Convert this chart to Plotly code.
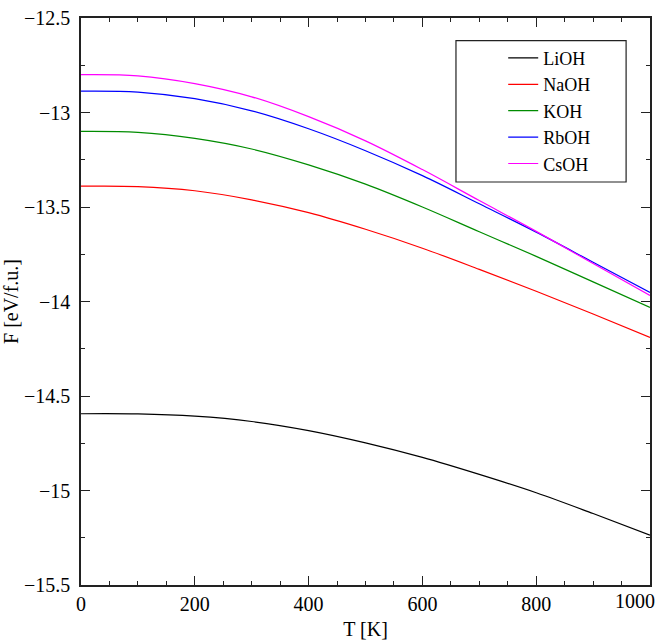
import plotly.graph_objects as go

T = [0, 100, 200, 300, 400, 500, 600, 700, 800, 900, 1000]

LiOH = [-14.594, -14.595, -14.607, -14.635, -14.683, -14.748, -14.825, -14.915, -15.012, -15.122, -15.236]
NaOH = [-13.390, -13.392, -13.414, -13.462, -13.530, -13.618, -13.718, -13.830, -13.946, -14.066, -14.190]
KOH = [-13.100, -13.105, -13.137, -13.193, -13.277, -13.379, -13.500, -13.631, -13.761, -13.896, -14.031]
RbOH = [-12.887, -12.892, -12.927, -12.991, -13.086, -13.202, -13.334, -13.483, -13.633, -13.792, -13.952]
CsOH = [-12.800, -12.806, -12.847, -12.917, -13.022, -13.150, -13.302, -13.466, -13.629, -13.799, -13.968]

names = ["LiOH", "NaOH", "KOH", "RbOH", "CsOH"]
series = [LiOH, NaOH, KOH, RbOH, CsOH]
colors = ["#000000", "#ff0000", "#008c00", "#0000ff", "#ff00ff"]

x_tickvals = [0, 200, 400, 600, 800, 1000]
x_ticklabels = ["0", "200", "400", "600", "800", "1000"]

FONT = "Liberation Serif, Times New Roman, serif"

fig = go.Figure()
for n, s, c in zip(names, series, colors):
    fig.add_trace(go.Scatter(x=T, y=s, name=n, mode="lines",
                             line=dict(color=c, width=1.2, shape="spline")))

axis_common = dict(
    showgrid=False, zeroline=False, showline=True, linecolor="#222222", linewidth=1.6,
    mirror="ticks", ticks="inside", ticklen=9, tickwidth=1.3, tickcolor="#222222",
    tickfont=dict(family=FONT, size=20, color="black"), automargin=False,
)

# the last label sits at the right edge of the page; it is drawn right-aligned below
fig.update_xaxes(range=[0, 1000], tickmode="array", tickvals=x_tickvals,
                 ticktext=x_ticklabels[:-1] + [""],
                 minor=dict(ticks="inside", ticklen=4, dtick=50, tick0=0, tickcolor="#222222", tickwidth=1),
                 title=dict(text="T [K]", font=dict(family=FONT, size=20, color="black"), standoff=8),
                 **axis_common)
fig.update_yaxes(range=[-15.5, -12.5], dtick=0.5, tick0=-12.5,
                 minor=dict(ticks="inside", ticklen=4, dtick=0.25, tickcolor="#222222", tickwidth=1),
                 title=dict(text="F [eV/f.u.]", font=dict(family=FONT, size=20, color="black"), standoff=0),
                 ticklabelstandoff=5,
                 **axis_common)

fig.add_annotation(x=x_tickvals[-1], xref="x", y=0, yref="paper",
                   text=x_ticklabels[-1], showarrow=False,
                   xanchor="right", yanchor="top", xshift=7, yshift=-3,
                   font=dict(family=FONT, size=20, color="black"))

fig.add_shape(type="rect", xref="paper", yref="paper",
              x0=0.659, x1=0.958, y0=0.7108, y1=0.96,
              line=dict(color="#222222", width=1.2), fillcolor="rgba(0,0,0,0)")

fig.update_layout(
    width=659, height=643,
    margin=dict(l=81, r=9, t=18, b=58, autoexpand=False),
    paper_bgcolor="white", plot_bgcolor="white",
    font=dict(family=FONT, size=20, color="black"),
    showlegend=True,
    legend=dict(x=0.742, y=0.9617, xanchor="left", yanchor="top",
                bgcolor="rgba(0,0,0,0)", borderwidth=0,
                font=dict(family=FONT, size=18, color="black"),
                tracegroupgap=0),
)

fig.write_html("out.html", config={"displayModeBar": False},
               post_script="document.body.style.margin='0';document.body.style.overflow='hidden';")
